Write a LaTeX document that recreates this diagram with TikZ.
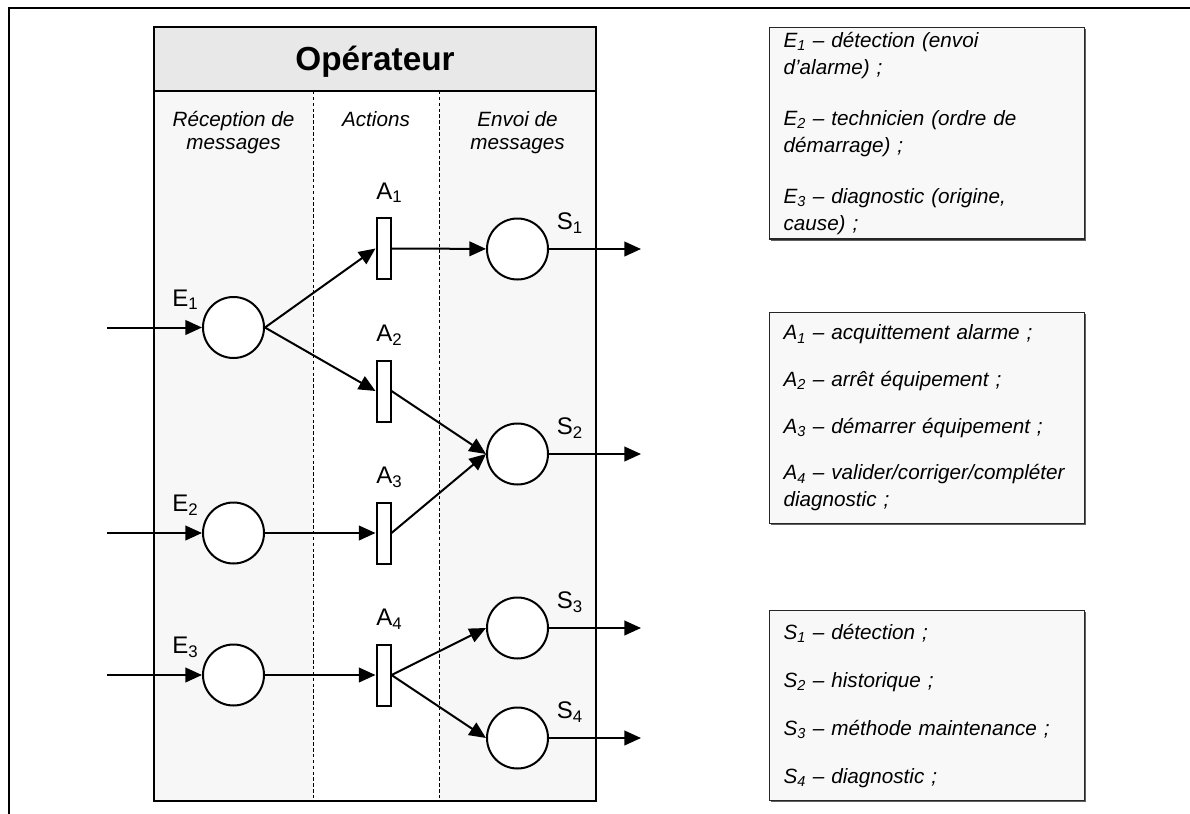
\documentclass[tikz,border=0pt]{standalone}
\usepackage{fontspec}
\setsansfont{Liberation Sans}
\usepackage{xcolor}
\definecolor{colgrey}{RGB}{247,247,247}
\definecolor{headgrey}{RGB}{232,232,232}
\definecolor{boxgrey}{RGB}{248,248,248}
\definecolor{shadegrey}{RGB}{95,95,95}
\usepackage{tikz}
\usetikzlibrary{arrows.meta,positioning,calc,shadows}
\tikzset{
	place/.style   = {circle,draw,line width=1.5pt,fill=white,
		minimum size=45.75pt,inner sep=0pt},
	trans/.style   = {rectangle,draw,line width=1.5pt,fill=white,
		minimum width=10.5pt,minimum height=45.75pt,inner sep=0pt},
	lbl/.style     = {font=\fontsize{18}{20}\selectfont\sffamily,
		inner sep=0pt,anchor=base west},
	colhead/.style = {font=\fontsize{15.5}{17.5}\selectfont\sffamily\itshape,
		align=center,inner sep=0pt,anchor=north},
	legend/.style  = {rectangle,draw=black!85,line width=0.9pt,fill=boxgrey,
		text width=215pt,inner xsep=10.5pt,align=left,anchor=north west,
		font=\fontsize{15.5}{20.25}\selectfont\sffamily\itshape,
		drop shadow={shadow xshift=1.2pt,shadow yshift=-1.2pt,
			fill=shadegrey,opacity=1}},
	arr/.style     = {-{Triangle[length=12.5pt,width=11pt]},line width=1.5pt},
}
\begin{document}
\begin{tikzpicture}[x=0.75pt,y=-0.75pt]
	\useasboundingbox (0,0) rectangle (1190,814);
	%% Cadre
	\draw[line width=1.6pt] (9,814) -- (9,8) -- (1190,8);
	
	%% Operateur
	\fill[colgrey] (154,91) rectangle (313,801);
	\fill[colgrey] (439,91) rectangle (596,801);
	\filldraw[fill=headgrey,line width=2.2pt] (154,27) rectangle (596,91);
	\draw[dashed,line width=0.7pt,dash pattern=on 2.6pt off 1.8pt]
	(313,91) -- (313,801) (439,91) -- (439,801);
	\draw[line width=2.2pt] (154,27) rectangle (596,801);
	\node[font=\fontsize{25}{30}\selectfont\sffamily\bfseries,anchor=base]
	(optitle) at (375,70) {Opérateur};
	\node[colhead] (hrec) at (233.5,111) {Réception de\\messages};
	\node[colhead] (hact) at (376,111.5) {Actions};
	\node[colhead] (henv) at (517.5,111) {Envoi de\\messages};
	
	%% Places et transitions
	\node[place] (e1) at (233.5,327.5) {};
	\node[place] (e2) at (233.5,533) {};
	\node[place] (e3) at (233.5,675) {};
	\node[trans] (a1) at (383.5,248.5) {};
	\node[trans] (a2) at (383.5,391) {};
	\node[trans] (a3) at (383.5,533) {};
	\node[trans] (a4) at (383.5,675) {};
	\node[place] (s1) at (517.5,249) {};
	\node[place] (s2) at (517.5,454) {};
	\node[place] (s3) at (517.5,628) {};
	\node[place] (s4) at (517.5,738) {};
	\foreach \i in {1,2,3}
	\node[lbl] (le\i) at ($(e\i)+(-61.5,-21.5)$) {E\textsubscript{\i}};
	\foreach \i in {1,...,4}
	\node[lbl] (la\i) at ($(a\i)+(-7.5,-49.5)$) {A\textsubscript{\i}};
	\foreach \i in {1,...,4}
	\node[lbl] (ls\i) at ($(s\i)+(39,-19.5)$) {S\textsubscript{\i}};
	
	%% Fleches
	\coordinate (lft) at (107,0);
	\coordinate (rgt) at (641,0);
	\foreach \i in {1,2,3} {
		\coordinate (in\i) at (e\i -| lft);
		\draw[arr] (in\i) -- (e\i);
	}
	\foreach \i in {1,...,4} {
		\coordinate (out\i) at (s\i -| rgt);
		\draw[arr] (s\i) -- (out\i);
	}
	\draw[arr] (e1.east) -- (a1.west);
	\draw[arr] (e1.east) -- (a2.west);
	\draw[arr] (e2) -- (a3);
	\draw[arr] (e3) -- (a4);
	\draw[arr] (a1) -- (s1);
	\draw[arr] (a2.east) -- (s2.west);
	\draw[arr] (a3.east) -- (s2.west);
	\draw[arr] (a4.east) -- (s3.west);
	\draw[arr] (a4.east) -- (s4.west);
	
	%% Legendes
	\node[legend,minimum height=156pt] (elist) at (769,27)
	{E\textsubscript{1} – détection (envoi\\d’alarme) ;\\[18pt]
		E\textsubscript{2} – technicien (ordre de\\démarrage) ;\\[18pt]
		E\textsubscript{3} – diagnostic (origine,\\cause) ;};
	\node[legend,minimum height=158pt] (alist) at (769,312)
	{A\textsubscript{1} – acquittement alarme ;\\[14.75pt]
		A\textsubscript{2} – arrêt équipement ;\\[14.75pt]
		A\textsubscript{3} – démarrer équipement ;\\[14.75pt]
		A\textsubscript{4}~–~valider/corriger/compléter\\diagnostic ;};
	\node[legend,minimum height=142.5pt] (slist) at (769,610)
	{S\textsubscript{1} – détection ;\\[15.75pt]
		S\textsubscript{2} – historique ;\\[15.75pt]
		S\textsubscript{3} – méthode maintenance ;\\[15.75pt]
		S\textsubscript{4} – diagnostic ;};
\end{tikzpicture}
\end{document}
